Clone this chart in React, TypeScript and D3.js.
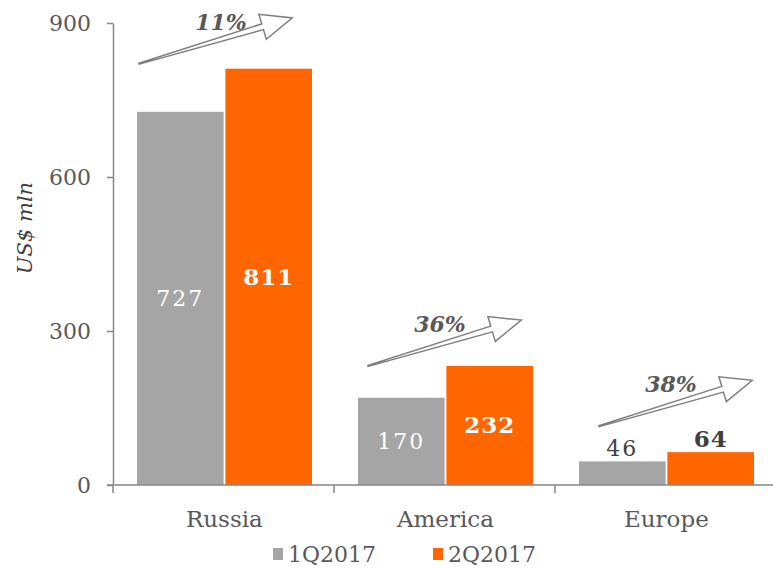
import * as d3 from "d3";
import { useRef, useEffect } from "react";

const categories: string[] = ["Russia", "America", "Europe"];
const seriesNames: string[] = ["1Q2017", "2Q2017"];
const q1Values: number[] = [727, 170, 46];
const q2Values: number[] = [811, 232, 64];
const growthLabels: string[] = ["11%", "36%", "38%"];
const yTicks: number[] = [0, 300, 600, 900];

const GRAY = "#A5A5A5";
const ORANGE = "#FF6600";
const AXIS = "#868686";
const TEXT = "#595959";
const FONT = "'DejaVu Serif', Georgia, serif";

// arrow tail nudges (layout only), relative to band start / orange bar top
const arrowNudge: [number, number][] = [
  [26, -5],
  [34, 0],
  [44, -26],
];
const labelNudge: number[] = [10, 0, 0];

export default function App() {
  const svgRef: any = useRef();

  useEffect(() => {
    const w = 773;
    const h = 568;
    const svg = d3.select(svgRef.current).attr("width", w).attr("height", h);
    svg.selectAll("*").remove();

    const x = d3.scaleBand().domain(categories).range([113, 776]);
    const xInner = d3.scaleBand().domain(seriesNames).range([24, 199]).paddingInner(0.02);
    const y = d3.scaleLinear().domain([0, 900]).range([485, 23]);

    //y axis
    const yAxis = d3
      .axisLeft(y)
      .tickValues(yTicks)
      .tickSize(6)
      .tickSizeOuter(0)
      .tickPadding(16)
      .tickFormat((d: any) => String(d));
    const gy = svg.append("g").attr("transform", "translate(113,0)").call(yAxis);
    gy.select(".domain").attr("stroke", AXIS).attr("stroke-width", 1.5);
    gy.selectAll(".tick line").attr("stroke", AXIS).attr("stroke-width", 1.5);
    gy.selectAll(".tick text")
      .attr("fill", TEXT)
      .style("font-family", FONT)
      .style("font-size", "22px");

    //bars
    const rows = categories.map((c, i) => ({ c, i, vals: [q1Values[i], q2Values[i]] }));
    const groups = svg
      .selectAll(".grp")
      .data(rows)
      .join("g")
      .attr("transform", (d: any) => `translate(${x(d.c)},0)`);

    groups
      .selectAll("rect")
      .data((d: any) => d.vals.map((v: number, k: number) => ({ v, s: seriesNames[k], k })))
      .join("rect")
      .attr("x", (d: any) => xInner(d.s)!)
      .attr("width", xInner.bandwidth())
      .attr("y", (d: any) => y(d.v))
      .attr("height", (d: any) => y(0) - y(d.v))
      .attr("fill", (d: any) => (d.k === 0 ? GRAY : ORANGE));

    groups
      .selectAll(".lbl")
      .data((d: any) => d.vals.map((v: number, k: number) => ({ v, s: seriesNames[k], k })))
      .join("text")
      .attr("x", (d: any) => xInner(d.s)! + xInner.bandwidth() / 2)
      .attr("y", (d: any) => {
        const hh = y(0) - y(d.v);
        return hh < 40 ? y(d.v) - 5 : (y(d.v) + y(0)) / 2 + 8;
      })
      .attr("text-anchor", "middle")
      .attr("fill", (d: any) => (y(0) - y(d.v) < 40 ? "#404040" : "#FFFFFF"))
      .style("font-family", FONT)
      .style("font-size", (d: any) => (d.k === 0 ? "22px" : "23px"))
      .style("font-weight", (d: any) => (d.k === 0 ? "normal" : "bold"))
      .style("letter-spacing", (d: any) => (d.k === 0 ? "2px" : "1px"))
      .text((d: any) => String(d.v));

    //x axis
    svg
      .append("line")
      .attr("x1", 107)
      .attr("x2", w)
      .attr("y1", y(0))
      .attr("y2", y(0))
      .attr("stroke", AXIS)
      .attr("stroke-width", 1.5);
    svg
      .selectAll(".xtick")
      .data(categories)
      .join("line")
      .attr("x1", (d) => x(d)!)
      .attr("x2", (d) => x(d)!)
      .attr("y1", y(0))
      .attr("y2", y(0) + 8)
      .attr("stroke", AXIS)
      .attr("stroke-width", 1.5);
    svg
      .selectAll(".xlab")
      .data(categories)
      .join("text")
      .attr("x", (d) => x(d)! + xInner(seriesNames[1])! - 1)
      .attr("y", 527)
      .attr("text-anchor", "middle")
      .attr("fill", TEXT)
      .style("font-family", FONT)
      .style("font-size", "23px")
      .text((d) => d);

    //growth arrows
    const arrowPts: [number, number][] = [
      [0, -0.5],
      [129, -3],
      [129, -13],
      [160, 0],
      [129, 13],
      [129, 3],
      [0, 0.5],
    ];
    const angle = (Math.atan2(-46, 154) * 180) / Math.PI;
    categories.forEach((c, i) => {
      const tx = x(c)! + arrowNudge[i][0];
      const ty = y(q2Values[i]) + arrowNudge[i][1];
      svg
        .append("path")
        .attr("d", d3.line()(arrowPts) + "Z")
        .attr("transform", `translate(${tx},${ty}) rotate(${angle})`)
        .attr("fill", "#FFFFFF")
        .attr("stroke", "#7F7F7F")
        .attr("stroke-width", 1.5)
        .attr("stroke-linejoin", "miter");
      svg
        .append("text")
        .attr("x", tx + 72 + labelNudge[i])
        .attr("y", ty - 34)
        .attr("text-anchor", "middle")
        .attr("fill", TEXT)
        .style("font-family", FONT)
        .style("font-size", "22px")
        .style("font-weight", "bold")
        .style("font-style", "italic")
        .text(growthLabels[i]);
    });

    //y label
    svg
      .append("text")
      .attr("transform", "translate(32,228) rotate(-90)")
      .attr("text-anchor", "middle")
      .attr("fill", "#404040")
      .style("font-family", FONT)
      .style("font-size", "21px")
      .style("font-style", "italic")
      .text("US$ mln");

    //legend
    const legendX = [273, 433];
    seriesNames.forEach((s, k) => {
      svg
        .append("rect")
        .attr("x", legendX[k])
        .attr("y", 548)
        .attr("width", 10)
        .attr("height", 12)
        .attr("fill", k === 0 ? GRAY : ORANGE);
      svg
        .append("text")
        .attr("x", legendX[k] + 15)
        .attr("y", 562)
        .attr("fill", TEXT)
        .style("font-family", FONT)
        .style("font-size", "22px")
        .text(s);
    });
  }, []);

  return (
    <div style={{ position: "absolute", left: 0, top: 0 }}>
      <svg ref={svgRef} style={{ display: "block", background: "#FFFFFF" }}></svg>
    </div>
  );
}
